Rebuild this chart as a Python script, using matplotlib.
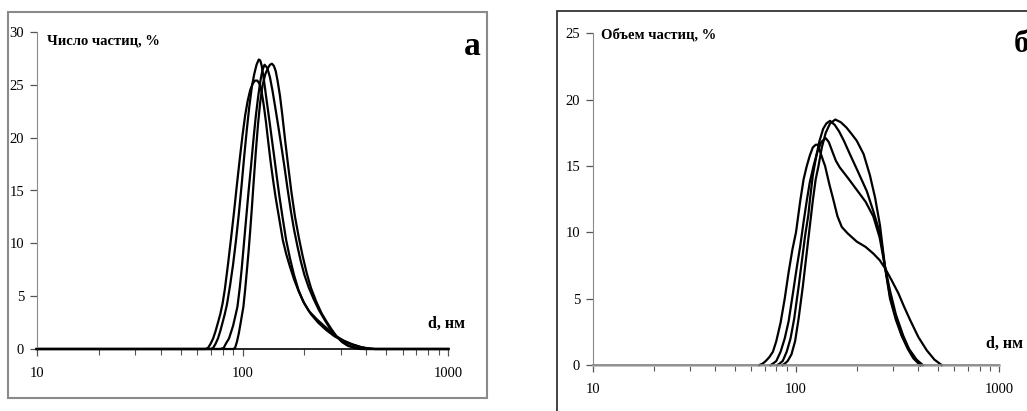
"""Particle size distributions: number (a) and volume (b) fractions."""

import matplotlib.pyplot as plt
from matplotlib.patches import Rectangle
from matplotlib.ticker import FixedLocator, LogLocator, NullFormatter

plt.rcParams["font.family"] = ["Liberation Serif", "DejaVu Serif"]

# panel a: number fraction, % (d in nm)
num_d1 = [10, 60, 66, 68, 70, 72, 74, 76, 78, 80, 82, 85, 88, 91, 94, 97, 100, 103, 106,
          109, 112, 115, 118, 121, 124, 127, 130, 133, 137, 141, 145, 150, 157, 163, 170,
          178, 188, 200, 215, 233, 255, 280, 310, 340, 370, 400, 440, 1000]
num_v1 = [0, 0, 0, 0.1, 0.5, 1.0, 1.7, 2.5, 3.3, 4.3, 5.6, 8.0, 10.5, 13.0, 15.6, 18.0,
          20.2, 22.1, 23.5, 24.5, 25.1, 25.4, 25.4, 25.1, 24.3, 23.0, 21.5, 19.8, 17.7,
          15.9, 14.3, 12.6, 10.3, 9.0, 7.8, 6.6, 5.4, 4.3, 3.3, 2.5, 1.8, 1.2, 0.75, 0.45,
          0.22, 0.08, 0, 0]
num_d2 = [10, 70, 72, 74, 76, 78, 80, 82, 84, 87, 90, 93, 96, 99, 102, 105, 108, 111, 114,
          117, 120, 122, 124, 127, 130, 133, 136, 139, 143, 147, 151, 157, 163, 170, 178,
          187, 197, 210, 230, 252, 270, 286, 310, 340, 380, 420, 440, 1000]
num_v2 = [0, 0, 0.1, 0.5, 1.0, 1.7, 2.5, 3.3, 4.2, 6.0, 8.0, 10.3, 12.8, 15.5, 18.3, 20.8,
          23.0, 24.8, 26.0, 26.9, 27.4, 27.3, 26.8, 25.5, 24.0, 22.6, 21.2, 19.8, 18.0,
          16.2, 14.5, 12.3, 10.3, 8.6, 7.0, 5.6, 4.5, 3.6, 2.8, 2.1, 1.6, 1.2, 0.8, 0.45,
          0.15, 0.03, 0, 0]
num_d3 = [10, 78, 81, 83, 86, 88, 90, 92, 94.5, 97, 99, 101, 104, 107, 110, 113, 116, 119,
          122, 125, 128, 132, 136, 140, 145, 150, 155, 160, 166, 172, 178, 185, 192, 200,
          210, 222, 235, 250, 265, 286, 305, 330, 360, 390, 1000]
num_v3 = [0, 0, 0.1, 0.5, 1.0, 1.6, 2.2, 3.0, 4.0, 5.8, 7.5, 9.4, 12.2, 14.9, 17.3, 19.8,
          22.0, 23.8, 25.3, 26.4, 26.9, 26.6, 25.7, 24.4, 22.6, 20.8, 19.0, 17.2, 15.0,
          13.0, 11.3, 9.7, 8.3, 7.0, 5.8, 4.7, 3.7, 2.8, 2.0, 1.2, 0.7, 0.3, 0.1, 0, 0]
num_d4 = [10, 90, 92, 94, 96, 98, 101, 103, 105, 107, 109, 111, 113, 116, 119, 122, 125,
          129, 133, 136, 139, 142, 145, 148, 152, 156, 161, 167, 173, 180, 188, 196, 205,
          215, 228, 242, 256, 270, 286, 305, 325, 350, 375, 1000]
num_v4 = [0, 0, 0.1, 0.7, 1.5, 2.5, 4.0, 5.6, 7.4, 9.2, 11.2, 13.3, 15.5, 18.6, 21.3, 23.4,
          24.9, 26.0, 26.6, 26.9, 27.0, 26.8, 26.3, 25.4, 24.0, 22.2, 19.8, 17.2, 14.8,
          12.5, 10.5, 8.8, 7.2, 5.8, 4.5, 3.4, 2.6, 1.9, 1.2, 0.65, 0.3, 0.1, 0, 0]

# panel b: volume fraction, % (d in nm)
vol_d1 = [66, 68.5, 71, 74, 77, 80, 84, 88, 92, 96, 100, 105, 109, 113, 117, 121, 125, 128,
          132, 136, 139, 146, 153, 160, 168, 180, 199, 220, 240, 258, 274, 295, 319, 340,
          364, 400, 440, 480, 520]
vol_v1 = [0, 0.1, 0.3, 0.6, 1.0, 1.8, 3.2, 5.0, 7.0, 8.7, 10.0, 12.4, 14.0, 15.0, 15.8,
          16.4, 16.6, 16.6, 16.0, 15.4, 15.0, 13.6, 12.4, 11.2, 10.4, 9.9, 9.3, 8.9, 8.4,
          7.9, 7.3, 6.4, 5.4, 4.4, 3.4, 2.1, 1.1, 0.4, 0]
vol_d2 = [75, 77, 80, 84, 88, 92, 97, 101, 105, 109, 113, 117, 122, 127, 133, 140, 145, 150,
          157, 164, 180, 199, 220, 240, 258, 274, 290, 310, 337, 360, 392, 420]
vol_v2 = [0, 0.1, 0.3, 1.0, 2.0, 3.3, 5.6, 7.4, 9.0, 10.8, 12.4, 13.8, 15.0, 16.0, 16.8,
          17.1, 16.8, 16.2, 15.4, 14.9, 14.1, 13.2, 12.3, 11.2, 9.6, 7.4, 5.6, 3.8, 2.2,
          1.2, 0.4, 0]
vol_d3 = [81, 83, 86, 90, 94, 98, 103, 107, 111, 115, 117, 121, 125, 130, 136, 141, 147,
          155, 163, 172, 184, 200, 223, 240, 259, 274, 290, 310, 331, 355, 378, 407]
vol_v3 = [0, 0.1, 0.3, 1.0, 2.0, 3.5, 5.9, 7.9, 9.8, 11.3, 12.4, 14.3, 15.5, 16.8, 17.8,
          18.2, 18.4, 18.1, 17.6, 16.9, 15.9, 14.7, 13.1, 11.6, 9.9, 7.4, 5.0, 3.4, 2.2,
          1.2, 0.5, 0]
vol_d4 = [86, 88, 91, 95, 99, 103, 108, 112, 116, 121, 125, 129, 134, 140, 147, 156, 166,
          177, 188, 199, 215, 231, 245, 259, 274, 290, 310, 330, 355, 380, 410]
vol_v4 = [0, 0.1, 0.3, 0.8, 1.8, 3.5, 5.9, 8.0, 10.0, 12.4, 14.0, 15.0, 16.4, 17.5, 18.2,
          18.5, 18.3, 17.9, 17.4, 16.9, 15.9, 14.3, 12.6, 10.5, 7.4, 5.2, 3.6, 2.3, 1.3,
          0.6, 0]

number_curves = [(num_d1, num_v1), (num_d2, num_v2), (num_d3, num_v3), (num_d4, num_v4)]
volume_curves = [(vol_d1, vol_v1), (vol_d2, vol_v2), (vol_d3, vol_v3), (vol_d4, vol_v4)]

num_yticks = [0, 5, 10, 15, 20, 25, 30]
vol_yticks = [0, 5, 10, 15, 20, 25]
xticks = [10, 100, 1000]


def _style_axis(ax, yticks):
    ax.set_xscale("log")
    ax.set_xlim(10, 1000)
    ax.set_ylim(0, yticks[-1])
    ax.xaxis.set_major_locator(FixedLocator(xticks))
    ax.xaxis.set_major_formatter(plt.FuncFormatter(lambda v, _: f"{v:g}"))
    ax.xaxis.set_minor_locator(LogLocator(base=10, subs=range(2, 10)))
    ax.xaxis.set_minor_formatter(NullFormatter())
    ax.set_yticks(yticks)
    for side in ("top", "right"):
        ax.spines[side].set_visible(False)
    ax.spines["left"].set_color("#8a8a8a")
    ax.spines["bottom"].set_color("#8a8a8a")
    ax.spines["bottom"].set_linewidth(1.2)
    ax.tick_params(axis="both", which="major", direction="out", length=5, width=0.9,
                   labelsize=10.5, color="#555555", pad=4)
    ax.tick_params(axis="x", which="minor", direction="out", length=4, width=0.8,
                   color="#555555")
    ax.tick_params(axis="x", which="major", pad=8)
    ax.patch.set_alpha(0)


fig = plt.figure(figsize=(10.27, 4.11), dpi=100)

# outer frames around each panel
fig.patches.append(Rectangle((8 / 1027, 13 / 411), 479 / 1027, 386 / 411,
                             transform=fig.transFigure, fill=False,
                             edgecolor="#8a8a8a", linewidth=1.5))
fig.patches.append(Rectangle((557 / 1027, -0.1), 0.6, (411 - 11) / 411 + 0.1,
                             transform=fig.transFigure, fill=False,
                             edgecolor="#222222", linewidth=1.2, clip_on=False))

ax_a = fig.add_axes([36.7 / 1027, 62 / 411, 411.6 / 1027, 317 / 411])
ax_b = fig.add_axes([592.7 / 1027, 46 / 411, 406.6 / 1027, 331.7 / 411])

for d, v in number_curves:
    ax_a.plot(d, v, color="black", linewidth=1.6, clip_on=False, solid_joinstyle="round")
_style_axis(ax_a, num_yticks)
ax_a.spines["bottom"].set_color("black")

ax_b.plot([10, 1000], [0, 0], color="#bbbbbb", linewidth=2.0, clip_on=False)
for d, v in volume_curves:
    ax_b.plot(d, v, color="black", linewidth=1.6, clip_on=False, solid_joinstyle="round")
_style_axis(ax_b, vol_yticks)

ax_a.text(0.025, 0.973, "Число частиц, %", transform=ax_a.transAxes, fontsize=10.5,
          fontweight="bold", ha="left", va="center")
ax_a.text(1.058, 0.955, "а", transform=ax_a.transAxes, fontsize=24,
          fontweight="bold", ha="center", va="center")
ax_a.text(1.04, 0.078, "d, нм", transform=ax_a.transAxes, fontsize=11.5,
          fontweight="bold", ha="right", va="center")

ax_b.text(0.02, 0.995, "Объем частиц, %", transform=ax_b.transAxes, fontsize=10.5,
          fontweight="bold", ha="left", va="center")
ax_b.text(1.055, 0.965, "б", transform=ax_b.transAxes, fontsize=22,
          fontweight="bold", ha="center", va="center", clip_on=False)
ax_b.text(1.058, 0.063, "d, нм", transform=ax_b.transAxes, fontsize=11.5,
          fontweight="bold", ha="right", va="center")

fig.savefig("out.png", dpi=100)
